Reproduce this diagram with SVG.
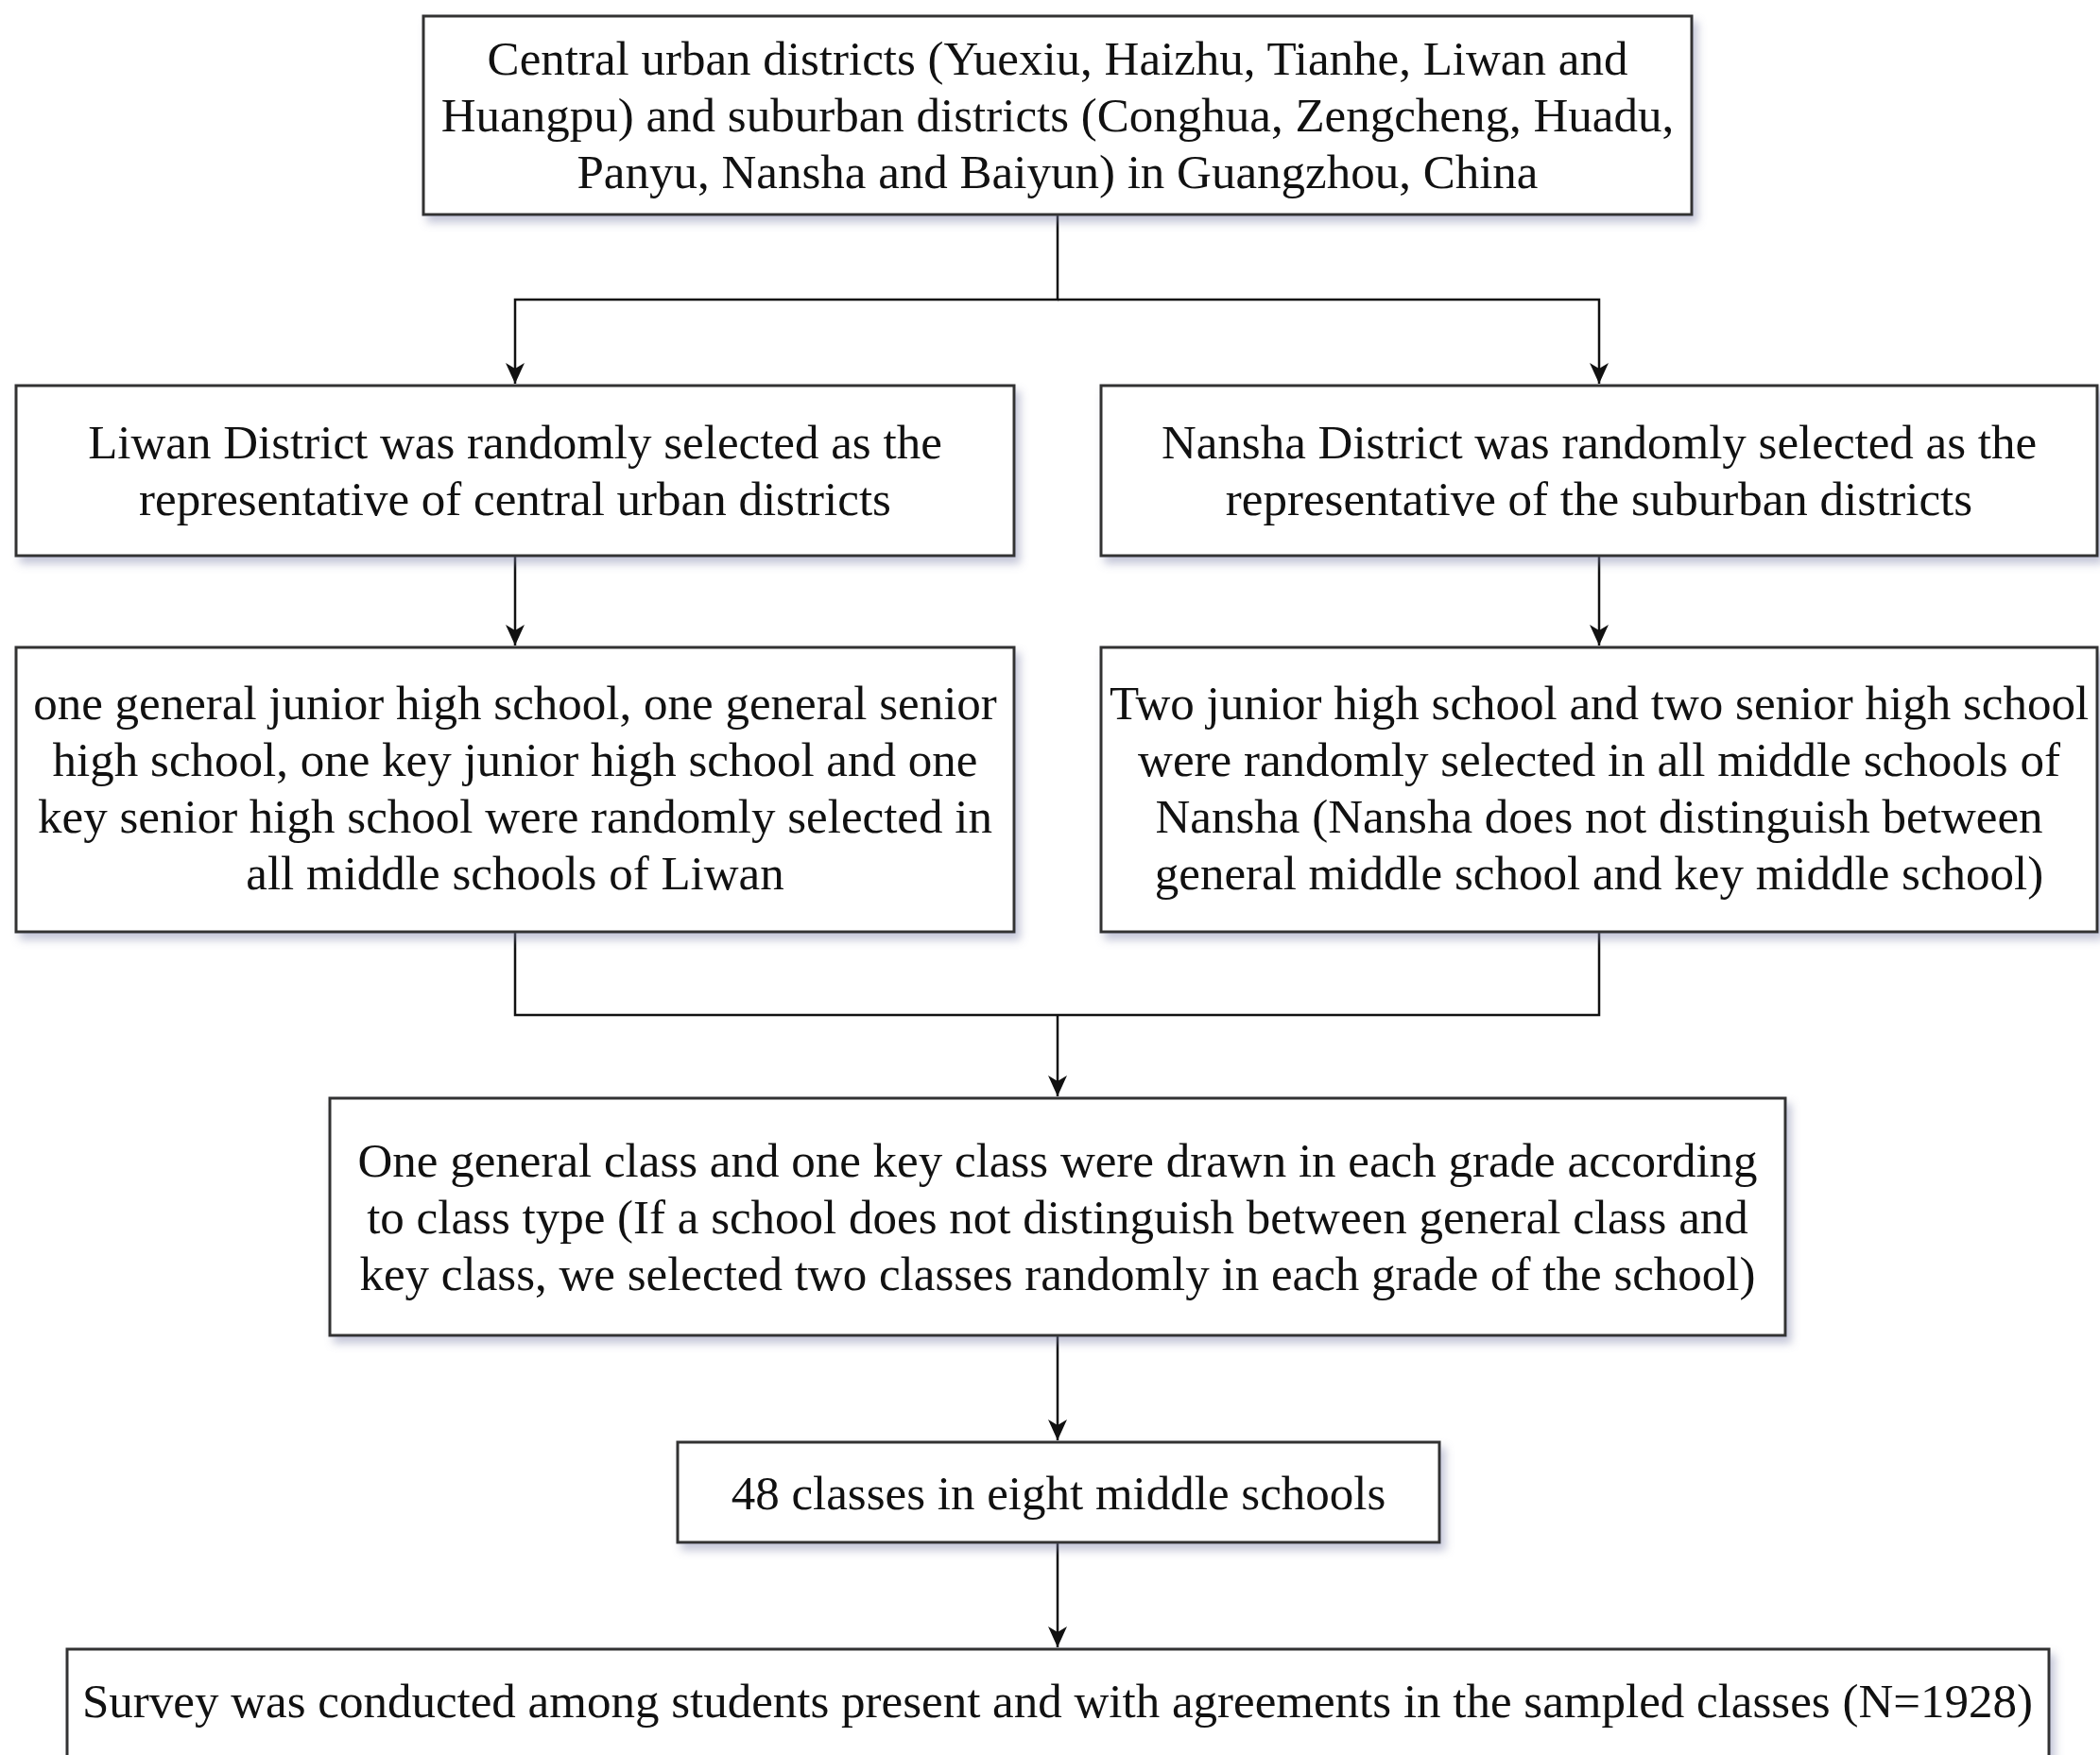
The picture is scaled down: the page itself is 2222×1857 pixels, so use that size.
<svg xmlns="http://www.w3.org/2000/svg" width="2222" height="1857" viewBox="0 0 2222 1857">
<style>
.box{fill:#ffffff;stroke:#333333;stroke-width:3;filter:url(#sh);}
.t{font-family:"Liberation Serif","Times New Roman",serif;font-size:51px;fill:#111111;text-anchor:middle;}
.c{fill:none;stroke:#111111;stroke-width:2.5;}
</style>
<defs>
<filter id="sh" x="-5%" y="-10%" width="112%" height="130%">
<feDropShadow dx="5" dy="7" stdDeviation="5" flood-color="#7a80a8" flood-opacity="0.45"/>
</filter>
<marker id="ah" markerWidth="20" markerHeight="24" refX="10" refY="22" orient="0" markerUnits="userSpaceOnUse">
<path d="M0,0 L10,6 L20,0 L10,22 Z" fill="#111111"/>
</marker>
</defs>
<rect width="2222" height="1857" fill="#ffffff"/>
<g id="connectors">
<path class="c" d="M1119,227 V317 H545 V406" marker-end="url(#ah)"/>
<path class="c" d="M1119,317 H1692 V406" marker-end="url(#ah)"/>
<path class="c" d="M545,588 V683" marker-end="url(#ah)"/>
<path class="c" d="M1692,588 V683" marker-end="url(#ah)"/>
<path class="c" d="M545,986 V1074 H1692 V986"/>
<path class="c" d="M1119,1074 V1160" marker-end="url(#ah)"/>
<path class="c" d="M1119,1413 V1524" marker-end="url(#ah)"/>
<path class="c" d="M1119,1632 V1743" marker-end="url(#ah)"/>
</g>
<g id="n1">
<rect class="box" x="448" y="17" width="1342" height="210"/>
<text class="t" x="1119" y="79">Central urban districts (Yuexiu, Haizhu, Tianhe, Liwan and</text>
<text class="t" x="1119" y="139">Huangpu) and suburban districts (Conghua, Zengcheng, Huadu,</text>
<text class="t" x="1119" y="199">Panyu, Nansha and Baiyun) in Guangzhou, China</text>
</g>
<g id="n2">
<rect class="box" x="17" y="408" width="1056" height="180"/>
<text class="t" x="545" y="485">Liwan District was randomly selected as the</text>
<text class="t" x="545" y="545">representative of central urban districts</text>
</g>
<g id="n3">
<rect class="box" x="1165" y="408" width="1054" height="180"/>
<text class="t" x="1692" y="485">Nansha District was randomly selected as the</text>
<text class="t" x="1692" y="545">representative of the suburban districts</text>
</g>
<g id="n4">
<rect class="box" x="17" y="685" width="1056" height="301"/>
<text class="t" x="545" y="761">one general junior high school, one general senior</text>
<text class="t" x="545" y="821">high school, one key junior high school and one</text>
<text class="t" x="545" y="881">key senior high school were randomly selected in</text>
<text class="t" x="545" y="941">all middle schools of Liwan</text>
</g>
<g id="n5">
<rect class="box" x="1165" y="685" width="1054" height="301"/>
<text class="t" x="1692" y="761">Two junior high school and two senior high school</text>
<text class="t" x="1692" y="821">were randomly selected in all middle schools of</text>
<text class="t" x="1692" y="881">Nansha (Nansha does not distinguish between</text>
<text class="t" x="1692" y="941">general middle school and key middle school)</text>
</g>
<g id="n6">
<rect class="box" x="349" y="1162" width="1540" height="251"/>
<text class="t" x="1119" y="1245">One general class and one key class were drawn in each grade according</text>
<text class="t" x="1119" y="1305">to class type (If a school does not distinguish between general class and</text>
<text class="t" x="1119" y="1365">key class, we selected two classes randomly in each grade of the school)</text>
</g>
<g id="n7">
<rect class="box" x="717" y="1526" width="806" height="106"/>
<text class="t" x="1120" y="1597">48 classes in eight middle schools</text>
</g>
<g id="n8">
<rect class="box" x="71" y="1745" width="2097" height="140"/>
<text class="t" x="1119" y="1817">Survey was conducted among students present and with agreements in the sampled classes (N=1928)</text>
</g>
</svg>
